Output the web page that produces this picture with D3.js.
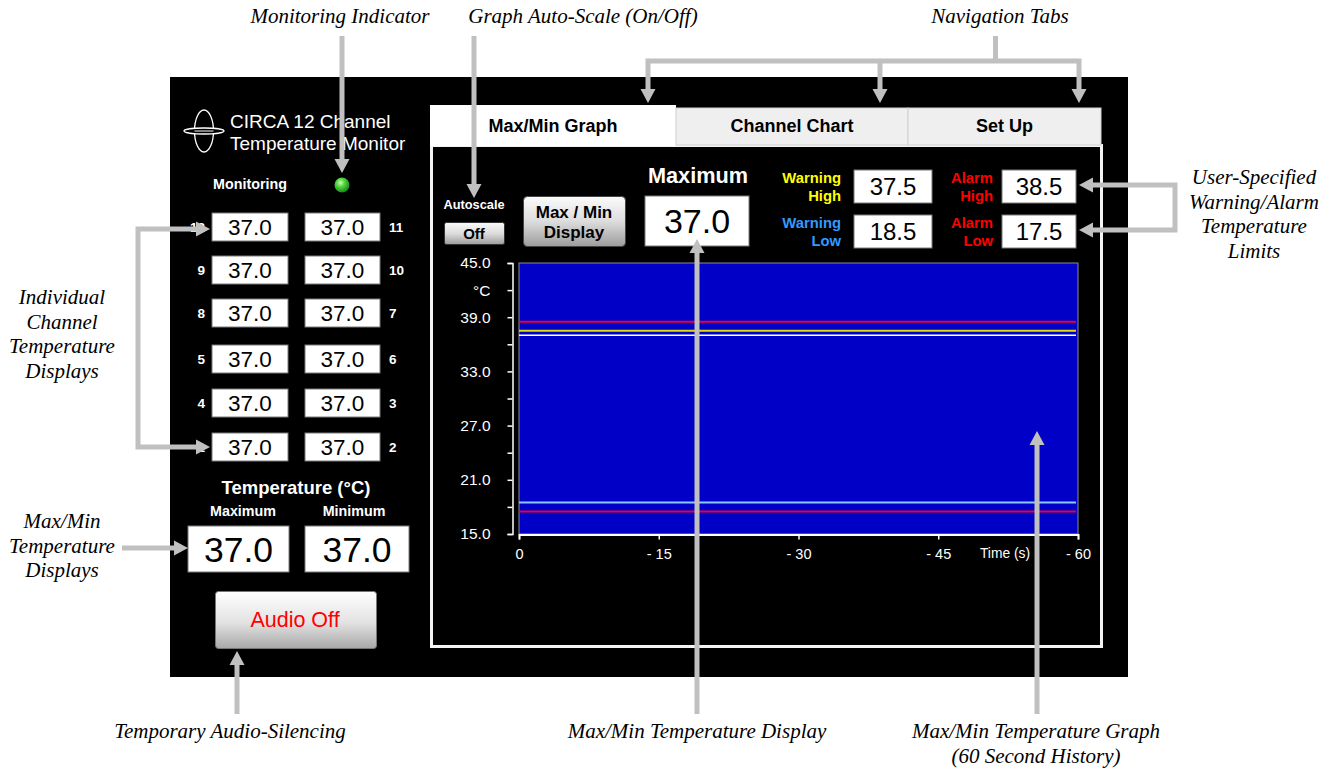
<!DOCTYPE html>
<html><head><meta charset="utf-8">
<script src="https://cdn.jsdelivr.net/npm/d3@7"></script>
<style>
html,body{margin:0;padding:0;background:#fff;}
svg{display:block;}
</style></head>
<body>
<svg id="c" width="1336" height="772"></svg>
<script>
// ---------- DATA ----------
const yDomain = [15, 45];
const yTicks = [15, 18, 21, 24, 27, 30, 33, 36, 39, 42, 45];
const yTickLabels = ["15.0", "", "21.0", "", "27.0", "", "33.0", "", "39.0", "°C", "45.0"];
const xDomain = [0, -60];
const xTicks = [0, -15, -30, -45, -60];
const xTickLabels = ["0", "- 15", "- 30", "- 45", "- 60"];
const limitNames = ["Alarm High", "Warning High", "Maximum", "Warning Low", "Alarm Low"];
const limitValues = [38.5, 37.5, 37.0, 18.5, 17.5];
const limitColors = ["#e8003c", "#e0dc00", "#ffffff", "#8cc8ff", "#e8003c"];
const channelLeftLabels = ["12", "9", "8", "5", "4", "1"];
const channelRightLabels = ["11", "10", "7", "6", "3", "2"];
const channelLeftValues = [37.0, 37.0, 37.0, 37.0, 37.0, 37.0];
const channelRightValues = [37.0, 37.0, 37.0, 37.0, 37.0, 37.0];
const maxTemp = 37.0;
const minTemp = 37.0;
const tabNames = ["Max/Min Graph", "Channel Chart", "Set Up"];
const limitBoxes = [
  {label: ["Warning", "High"], value: 37.5, color: "#ffff00"},
  {label: ["Warning", "Low"], value: 18.5, color: "#3399ff"},
  {label: ["Alarm", "High"], value: 38.5, color: "#ff0000"},
  {label: ["Alarm", "Low"], value: 17.5, color: "#ff0000"}
];

// ---------- DRAW ----------
const svg = d3.select("#c");
const UI = "Arial, 'Liberation Sans', sans-serif";
const SERIF = "'Times New Roman', 'Liberation Serif', serif";
const defs = svg.append("defs");

function grad(id, stops) {
  const g = defs.append("linearGradient").attr("id", id).attr("x1", 0).attr("y1", 0).attr("x2", 0).attr("y2", 1);
  stops.forEach(s => g.append("stop").attr("offset", s[0]).attr("stop-color", s[1]));
}
grad("btn", [[0, "#fbfbfb"], [0.5, "#dcdcdc"], [1, "#9c9c9c"]]);
grad("btn2", [[0, "#ffffff"], [0.55, "#e2e2e2"], [1, "#a8a8a8"]]);
const rg = defs.append("radialGradient").attr("id", "led").attr("cx", 0.4).attr("cy", 0.35).attr("r", 0.65);
rg.append("stop").attr("offset", 0).attr("stop-color", "#c8ffb0");
rg.append("stop").attr("offset", 0.45).attr("stop-color", "#4cd23c");
rg.append("stop").attr("offset", 1).attr("stop-color", "#1a8a1a");

svg.append("rect").attr("width", 1336).attr("height", 772).attr("fill", "#fff");

// main black panel
svg.append("rect").attr("x", 170).attr("y", 77).attr("width", 958).attr("height", 600).attr("fill", "#000");

// ----- frame and tabs -----
svg.append("rect").attr("x", 431.5).attr("y", 145.5).attr("width", 670).attr("height", 501)
  .attr("fill", "#000").attr("stroke", "#f4f4f4").attr("stroke-width", 3);
const tabX = [430, 676, 908, 1101];
tabNames.forEach((t, i) => {
  const active = i === 0;
  svg.append("rect").attr("x", tabX[i]).attr("y", active ? 105 : 108)
    .attr("width", tabX[i + 1] - tabX[i]).attr("height", active ? 41 : 37)
    .attr("fill", active ? "#ffffff" : "#efefef")
    .attr("stroke", active ? "none" : "#d0d0d0").attr("stroke-width", 1);
  svg.append("text").attr("x", i === 0 ? 553 : (tabX[i] + tabX[i + 1]) / 2).attr("y", 132)
    .attr("text-anchor", "middle").attr("font-family", UI).attr("font-size", 18)
    .attr("font-weight", "bold").attr("fill", "#000").text(t);
});

// ----- left panel -----
const lp = svg.append("g");
lp.append("ellipse").attr("cx", 204).attr("cy", 131).attr("rx", 9.5).attr("ry", 21)
  .attr("fill", "none").attr("stroke", "#fff").attr("stroke-width", 1.3);
lp.append("ellipse").attr("cx", 204).attr("cy", 131).attr("rx", 20).attr("ry", 3)
  .attr("fill", "#000").attr("stroke", "#fff").attr("stroke-width", 1.3);
lp.append("line").attr("x1", 194.5).attr("x2", 213.5).attr("y1", 131).attr("y2", 131).attr("stroke", "#fff").attr("stroke-width", 1);
lp.append("text").attr("x", 230).attr("y", 128).attr("font-family", UI).attr("font-size", 19)
  .attr("fill", "#fff").text("CIRCA 12 Channel");
lp.append("text").attr("x", 230).attr("y", 150).attr("font-family", UI).attr("font-size", 19)
  .attr("fill", "#fff").text("Temperature Monitor");
lp.append("text").attr("x", 250).attr("y", 189).attr("text-anchor", "middle").attr("font-family", UI)
  .attr("font-size", 14.3).attr("font-weight", "bold").attr("fill", "#fff").text("Monitoring");
lp.append("circle").attr("cx", 342).attr("cy", 185).attr("r", 7.5).attr("fill", "url(#led)");

const rowY = [227, 270, 313, 359, 403, 447];
function valBox(g, x, y, w, h, v, fs) {
  g.append("rect").attr("x", x).attr("y", y).attr("width", w).attr("height", h)
    .attr("fill", "#fff").attr("stroke", "#7a7a7a").attr("stroke-width", 1);
  g.append("text").attr("x", x + w / 2).attr("y", y + h / 2 + fs * 0.36).attr("text-anchor", "middle")
    .attr("font-family", UI).attr("font-size", fs).attr("fill", "#000").text(v.toFixed(1));
}
rowY.forEach((cy, i) => {
  valBox(lp, 212, cy - 14, 76, 28, channelLeftValues[i], 22.5);
  valBox(lp, 305, cy - 14, 75, 28, channelRightValues[i], 22.5);
  lp.append("text").attr("x", 205).attr("y", cy + 5).attr("text-anchor", "end").attr("font-family", UI)
    .attr("font-size", 13.5).attr("font-weight", "bold").attr("fill", "#fff").text(channelLeftLabels[i]);
  lp.append("text").attr("x", 389).attr("y", cy + 5).attr("font-family", UI)
    .attr("font-size", 13.5).attr("font-weight", "bold").attr("fill", "#fff").text(channelRightLabels[i]);
});
lp.append("text").attr("x", 296).attr("y", 494).attr("text-anchor", "middle").attr("font-family", UI)
  .attr("font-size", 18.5).attr("font-weight", "bold").attr("fill", "#fff").text("Temperature (°C)");
lp.append("text").attr("x", 243).attr("y", 516).attr("text-anchor", "middle").attr("font-family", UI)
  .attr("font-size", 14.3).attr("font-weight", "bold").attr("fill", "#fff").text("Maximum");
lp.append("text").attr("x", 354).attr("y", 516).attr("text-anchor", "middle").attr("font-family", UI)
  .attr("font-size", 14.3).attr("font-weight", "bold").attr("fill", "#fff").text("Minimum");
valBox(lp, 188, 526, 101, 46, maxTemp, 35.5);
valBox(lp, 305, 526, 104, 46, minTemp, 35.5);
lp.append("rect").attr("x", 215.5).attr("y", 591.5).attr("width", 161).attr("height", 57).attr("rx", 3)
  .attr("fill", "url(#btn2)").attr("stroke", "#777").attr("stroke-width", 1);
lp.append("text").attr("x", 295).attr("y", 627).attr("text-anchor", "middle").attr("font-family", UI)
  .attr("font-size", 21.5).attr("fill", "#ff0000").text("Audio Off");

// ----- controls above graph -----
const cp = svg.append("g");
cp.append("text").attr("x", 474).attr("y", 209).attr("text-anchor", "middle").attr("font-family", UI)
  .attr("font-size", 12.8).attr("font-weight", "bold").attr("fill", "#fff").text("Autoscale");
cp.append("rect").attr("x", 444.5).attr("y", 222.5).attr("width", 60).attr("height", 22).attr("rx", 2)
  .attr("fill", "url(#btn)").attr("stroke", "#333").attr("stroke-width", 1);
cp.append("text").attr("x", 474).attr("y", 239).attr("text-anchor", "middle").attr("font-family", UI)
  .attr("font-size", 15).attr("font-weight", "bold").attr("fill", "#000").text("Off");
cp.append("rect").attr("x", 523.5).attr("y", 196.5).attr("width", 102).attr("height", 50).attr("rx", 4)
  .attr("fill", "url(#btn)").attr("stroke", "#444").attr("stroke-width", 1);
cp.append("text").attr("x", 574).attr("y", 218).attr("text-anchor", "middle").attr("font-family", UI)
  .attr("font-size", 17).attr("font-weight", "bold").attr("fill", "#000").text("Max / Min");
cp.append("text").attr("x", 574).attr("y", 238).attr("text-anchor", "middle").attr("font-family", UI)
  .attr("font-size", 17).attr("font-weight", "bold").attr("fill", "#000").text("Display");
cp.append("text").attr("x", 698).attr("y", 183).attr("text-anchor", "middle").attr("font-family", UI)
  .attr("font-size", 21.7).attr("font-weight", "bold").attr("fill", "#fff").text("Maximum");
valBox(cp, 645, 196, 104, 50, maxTemp, 34);

const boxPos = [[841, 854, 170], [841, 854, 215], [993, 1002, 170], [993, 1002, 215]];
limitBoxes.forEach((b, i) => {
  const [lx, bx, by] = boxPos[i];
  b.label.forEach((l, j) => {
    cp.append("text").attr("x", lx).attr("y", by + 13 + j * 18).attr("text-anchor", "end")
      .attr("font-family", UI).attr("font-size", 14.8).attr("font-weight", "bold").attr("fill", b.color).text(l);
  });
  valBox(cp, bx, by, bx === 854 ? 78 : 74, 33, b.value, 24);
});

// ----- graph -----
const x = d3.scaleLinear().domain(xDomain).range([519, 1078]);
const y = d3.scaleLinear().domain(yDomain).range([534, 263]);
const gp = svg.append("g");
gp.append("rect").attr("x", x(0)).attr("y", y(45)).attr("width", x(-60) - x(0)).attr("height", y(15) - y(45))
  .attr("fill", "#0000c6").attr("stroke", "#8a8aa8").attr("stroke-width", 1);

const yAxis = d3.axisLeft(y).tickValues(yTicks).tickSize(5).tickPadding(17)
  .tickFormat((d, i) => yTickLabels[i]);
const ya = gp.append("g").attr("transform", "translate(512.5,0)").call(yAxis);
ya.select(".domain").attr("stroke", "#fff").attr("stroke-width", 1.5);
ya.selectAll(".tick line").attr("stroke", "#fff").attr("stroke-width", 1.5);
ya.selectAll(".tick text").attr("fill", "#fff").attr("font-family", UI).attr("font-size", 15.5);

const xAxis = d3.axisBottom(x).tickValues(xTicks).tickSize(5).tickPadding(9)
  .tickFormat((d, i) => xTickLabels[i]);
const xa = gp.append("g").attr("transform", "translate(0,534.5)").call(xAxis);
xa.select(".domain").attr("stroke", "#fff").attr("stroke-width", 1.8);
xa.selectAll(".tick line").attr("stroke", "#fff").attr("stroke-width", 1.5);
xa.selectAll(".tick text").attr("fill", "#fff").attr("font-family", UI).attr("font-size", 14.5);
gp.append("text").attr("x", 1005).attr("y", 558).attr("text-anchor", "middle").attr("font-family", UI)
  .attr("font-size", 13.8).attr("fill", "#fff").text("Time (s)");

gp.selectAll("line.limit").data(limitValues).join("line").attr("class", "limit")
  .attr("x1", x(0)).attr("x2", x(-60) - 2)
  .attr("y1", d => y(d)).attr("y2", d => y(d))
  .attr("stroke", (d, i) => limitColors[i]).attr("stroke-width", (d, i) => i === 2 ? 1.6 : 2);

// ----- annotations -----
const an = svg.append("g");
const AC = "#c0c0c0";
function line(pts) {
  an.append("path").attr("d", d3.line()(pts)).attr("fill", "none").attr("stroke", AC)
    .attr("stroke-width", 5).attr("stroke-linejoin", "miter");
}
function head(tx, ty, dir) {
  const L = 14, W = 7.5;
  let p;
  if (dir === "down") p = [[tx, ty], [tx - W, ty - L], [tx + W, ty - L]];
  if (dir === "up") p = [[tx, ty], [tx - W, ty + L], [tx + W, ty + L]];
  if (dir === "right") p = [[tx, ty], [tx - L, ty - W], [tx - L, ty + W]];
  if (dir === "left") p = [[tx, ty], [tx + L, ty - W], [tx + L, ty + W]];
  an.append("polygon").attr("points", p.map(q => q.join(",")).join(" ")).attr("fill", AC);
}
line([[342, 36], [342, 160]]); head(342, 173, "down");
line([[474, 36], [474, 185]]); head(474, 198, "down");
line([[995.5, 36], [995.5, 61]]);
line([[648, 90], [648, 61], [1079, 61], [1079, 90]]);
line([[880, 61], [880, 90]]);
head(648, 103, "down"); head(880, 103, "down"); head(1079, 103, "down");
line([[197, 229], [138, 229], [138, 447], [197, 447]]);
head(210, 229, "right"); head(210, 447, "right");
line([[122, 548], [176, 548]]); head(188, 548, "right");
line([[1091, 185], [1175, 185], [1175, 230], [1091, 230]]);
head(1079, 185, "left"); head(1079, 230, "left");
line([[237, 714], [237, 664]]); head(237, 651, "up");
line([[697, 714], [697, 252]]); head(697, 239, "up");
line([[1037, 714], [1037, 444]]); head(1037, 431, "up");

function label(xc, y0, lines) {
  lines.forEach((l, i) => {
    an.append("text").attr("x", xc).attr("y", y0 + i * 24.5).attr("text-anchor", "middle")
      .attr("font-family", SERIF).attr("font-style", "italic").attr("font-size", 21)
      .attr("fill", "#000").text(l);
  });
}
label(340, 23, ["Monitoring Indicator"]);
label(583, 23, ["Graph Auto-Scale (On/Off)"]);
label(1000, 23, ["Navigation Tabs"]);
label(62, 304, ["Individual", "Channel", "Temperature", "Displays"]);
label(62, 528, ["Max/Min", "Temperature", "Displays"]);
label(1254, 184, ["User-Specified", "Warning/Alarm", "Temperature", "Limits"]);
label(230, 738, ["Temporary Audio-Silencing"]);
label(697, 738, ["Max/Min Temperature Display"]);
label(1036, 738, ["Max/Min Temperature Graph", "(60 Second History)"]);
</script>
</body></html>
